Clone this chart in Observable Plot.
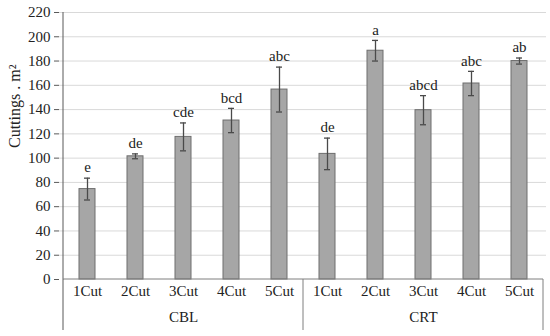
<!DOCTYPE html>
<html>
<head>
<meta charset="utf-8">
<script src="https://cdn.jsdelivr.net/npm/d3@7"></script>
<script src="https://cdn.jsdelivr.net/npm/@observablehq/plot@0.6"></script>
<style>
  html, body { margin: 0; padding: 0; background: #fff; }
  #chart svg { display: block; }
  #chart svg, #chart svg text { font-family: "Liberation Serif", "Times New Roman", serif !important; }
</style>
</head>
<body>
<div id="chart"></div>
<script>
const groups = ["CBL", "CRT"];
const cuts = ["1Cut", "2Cut", "3Cut", "4Cut", "5Cut"];
const cblMeans = [74.5, 101.5, 117.5, 131, 156.5];
const cblErrors = [9, 2, 11.5, 10, 18.5];
const cblLetters = ["e", "de", "cde", "bcd", "abc"];
const crtMeans = [103.5, 188.5, 139.5, 161.5, 180];
const crtErrors = [13, 8.5, 12, 10, 2.5];
const crtLetters = ["de", "a", "abcd", "abc", "ab"];
const yTicks = [0, 20, 40, 60, 80, 100, 120, 140, 160, 180, 200, 220];

const rows = [];
groups.forEach((g, gi) => {
  const means = gi === 0 ? cblMeans : crtMeans;
  const errs = gi === 0 ? cblErrors : crtErrors;
  const lets = gi === 0 ? cblLetters : crtLetters;
  cuts.forEach((c, i) => {
    rows.push({key: g + "-" + c, group: g, cut: c, mean: means[i],
      lo: means[i] - errs[i], hi: means[i] + errs[i], letter: lets[i]});
  });
});
const keys = rows.map(d => d.key);
const groupCenters = groups.map(g => ({group: g, key: g + "-" + cuts[2]}));

const font = "Liberation Serif, Times New Roman, serif";
const W = 550, H = 336, mL = 59, mR = 4, mT = 12, mB = 57;

const separators = (index, scales, values, dims) => {
  const x = scales.x;
  const step = x.step ? x.step() : (dims.width - dims.marginLeft - dims.marginRight) / keys.length;
  const bw = x.bandwidth ? x.bandwidth() : 0;
  const bottom = dims.height - dims.marginBottom;
  const xs = [x(keys[0]) + bw / 2 - step / 2, x(keys[5]) + bw / 2 - step / 2, x(keys[9]) + bw / 2 + step / 2];
  const g = document.createElementNS("http://www.w3.org/2000/svg", "g");
  const mk = (x1, y1, x2, y2, color) => {
    const l = document.createElementNS("http://www.w3.org/2000/svg", "line");
    l.setAttribute("x1", x1); l.setAttribute("y1", y1);
    l.setAttribute("x2", x2); l.setAttribute("y2", y2);
    l.setAttribute("stroke", color);
    l.setAttribute("stroke-width", 1);
    g.appendChild(l);
  };
  mk(xs[0], dims.marginTop, xs[0], bottom, "#595959");
  mk(xs[0], bottom, xs[2], bottom, "#7f7f7f");
  xs.forEach((v, i) => mk(v, bottom, v, bottom + 51, i === 0 ? "#595959" : "#7f7f7f"));
  return g;
};

const chart = Plot.plot({
  width: W,
  height: H,
  marginLeft: mL,
  marginRight: mR,
  marginTop: mT,
  marginBottom: mB,
  style: {fontFamily: font, fontSize: "15px", color: "#222", background: "#fff"},
  x: {domain: keys, paddingInner: 0.67, paddingOuter: 0.335, axis: null},
  y: {domain: [0, 220], axis: null},
  marks: [
    Plot.gridY(yTicks.filter(t => t > 0), {stroke: "#d9d9d9", strokeOpacity: 1}),
    Plot.axisY(yTicks, {tickSize: 5, tickPadding: 4, stroke: "#595959", label: null, fontSize: 15, fill: "#222", fontFamily: font}),
    Plot.text(["Cuttings . m²"], {frameAnchor: "left", dx: -45, dy: 2, rotate: -90, fontSize: 16, fill: "#222", fontFamily: font}),
    Plot.barY(rows, {x: "key", y: "mean", fill: "#a6a6a6", stroke: "#6e6e6e", strokeWidth: 1}),
    Plot.ruleX(rows, {x: "key", y1: "lo", y2: "hi", stroke: "#4a4a4a", strokeWidth: 1.3}),
    Plot.tickY(rows, {x: "key", y: "lo", stroke: "#4a4a4a", strokeWidth: 1.3, insetLeft: 5, insetRight: 5}),
    Plot.tickY(rows, {x: "key", y: "hi", stroke: "#4a4a4a", strokeWidth: 1.3, insetLeft: 5, insetRight: 5}),
    Plot.text(rows, {x: "key", y: "hi", text: "letter", dy: -10.5, fontSize: 15, fill: "#222", fontFamily: font}),
    Plot.text(rows, {x: "key", text: "cut", frameAnchor: "bottom", dy: 16, fontSize: 15, fill: "#222", fontFamily: font}),
    Plot.text(groupCenters, {x: "key", text: "group", frameAnchor: "bottom", dy: 42, fontSize: 15, fill: "#222", fontFamily: font}),
    separators
  ]
});
document.getElementById("chart").appendChild(chart);
</script>
</body>
</html>
